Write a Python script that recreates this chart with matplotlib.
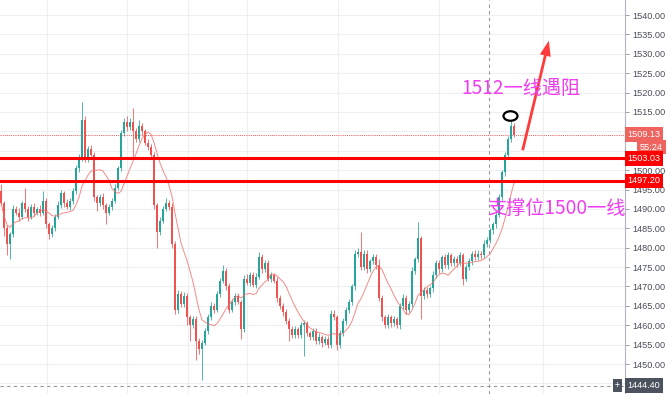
import numpy as np
import pandas as pd
import matplotlib
matplotlib.use('Agg')
import matplotlib.pyplot as plt
from matplotlib.patches import Ellipse, FancyArrowPatch
import matplotlib.transforms as mtransforms

plt.rcParams['font.family'] = ['Noto Sans CJK SC', 'DejaVu Sans']

# candle data
first_open = 1494.5
closes = [
    1491.5, 1485.0, 1481.0, 1483.5, 1490.0, 1489.0, 1488.0, 1491.5, 1490.0, 1488.0,
    1490.5, 1489.0, 1490.0, 1489.0, 1492.0, 1486.0, 1483.5, 1485.0, 1488.0, 1491.0,
    1494.0, 1491.5, 1490.5, 1492.0, 1494.5, 1500.5, 1503.0, 1513.0, 1503.0, 1505.5,
    1504.0, 1493.0, 1491.5, 1493.0, 1491.0, 1489.0, 1490.5, 1492.0, 1495.5, 1500.5,
    1509.5, 1512.5, 1511.0, 1512.5, 1510.0, 1508.0, 1511.5, 1510.0, 1507.0, 1506.0,
    1504.0, 1491.0, 1484.0, 1487.0, 1490.0, 1491.5, 1490.5, 1481.0, 1464.0, 1468.0,
    1465.5, 1467.5, 1462.0, 1460.0, 1461.5, 1456.0, 1454.0, 1455.5, 1458.5, 1462.0,
    1465.0, 1464.0, 1468.0, 1471.5, 1474.0, 1470.0, 1464.0, 1466.0, 1467.5, 1466.0,
    1459.0, 1472.0, 1471.0, 1473.0, 1470.5, 1472.5, 1477.5, 1474.5, 1476.0, 1472.0,
    1473.0, 1471.5, 1467.0, 1465.0, 1463.5, 1461.0, 1459.0, 1457.5, 1459.0, 1457.5,
    1460.0, 1460.5, 1458.0, 1457.0, 1458.5, 1456.0, 1457.0, 1455.5, 1456.5, 1455.0,
    1463.0, 1462.0, 1455.0, 1458.0, 1461.0, 1464.0, 1466.0, 1470.0, 1478.5, 1479.0,
    1475.0, 1478.5, 1474.5, 1476.5, 1477.5, 1475.5, 1467.0, 1462.0, 1460.0, 1462.0,
    1460.5, 1461.5, 1460.0, 1465.0, 1467.0, 1464.0, 1465.5, 1474.0, 1477.0, 1482.5,
    1467.5, 1469.0, 1468.0, 1469.5, 1473.0, 1476.0, 1474.5, 1477.5, 1475.5, 1478.0,
    1476.0, 1477.0, 1476.0, 1478.0, 1472.0, 1475.0, 1476.5, 1478.5, 1477.5, 1478.5,
    1478.0, 1481.0, 1482.0, 1484.5, 1486.0, 1488.5, 1493.0, 1499.5, 1504.0, 1508.0,
    1511.5, 1509.13,
]
wick_up = [
    2.0, 0.5, 0.8, 0.6, 1.0, 0.8, 1.2, 0.6, 4.0, 0.7,
    0.8, 1.0, 0.6, 0.9, 2.5, 0.7, 0.5, 0.8, 0.6, 1.0,
    0.8, 0.6, 1.0, 0.7, 0.9, 0.8, 1.2, 4.5, 1.0, 0.8,
    0.9, 0.6, 0.7, 0.8, 1.0, 0.6, 0.8, 0.7, 0.9, 0.6,
    0.8, 1.0, 1.5, 0.9, 3.5, 0.8, 1.5, 0.7, 0.6, 0.9,
    0.8, 0.7, 0.6, 1.0, 0.8, 1.2, 0.7, 0.9, 0.6, 1.2,
    0.8, 1.0, 0.7, 0.6, 1.0, 0.8, 0.7, 0.6, 0.9, 0.8,
    1.0, 0.8, 0.9, 0.7, 1.5, 0.8, 1.0, 0.7, 0.9, 0.8,
    0.6, 0.9, 1.2, 0.8, 0.7, 1.0, 1.5, 0.8, 0.9, 0.7,
    0.8, 0.6, 0.9, 0.7, 0.8, 0.6, 0.9, 0.7, 0.8, 0.6,
    0.8, 0.9, 0.7, 0.6, 0.8, 0.7, 0.9, 0.6, 0.8, 0.7,
    0.9, 1.0, 0.7, 0.8, 0.9, 0.7, 0.8, 0.6, 1.0, 0.8,
    5.0, 0.8, 0.9, 0.7, 1.0, 0.8, 1.5, 0.7, 0.6, 0.8,
    0.7, 0.9, 0.6, 0.8, 1.0, 0.7, 0.8, 0.9, 0.7, 4.0,
    0.6, 0.8, 0.9, 0.7, 1.0, 0.8, 0.9, 0.7, 1.0, 0.8,
    0.7, 0.9, 0.8, 1.0, 0.6, 0.8, 0.9, 0.7, 1.0, 0.8,
    0.7, 0.9, 0.8, 0.6, 0.7, 0.8, 0.9, 0.6, 0.8, 0.7,
    1.5, 0.6,
]
wick_dn = [
    0.5, 2.0, 3.0, 4.0, 0.8, 0.7, 1.0, 0.6, 0.8, 1.0,
    0.7, 0.9, 0.6, 0.8, 0.5, 1.0, 1.2, 0.8, 0.6, 0.7,
    0.8, 0.9, 0.6, 0.7, 0.8, 0.6, 0.9, 0.7, 1.0, 0.8,
    0.7, 1.0, 2.0, 0.8, 0.9, 3.0, 0.7, 0.8, 0.6, 0.7,
    0.8, 0.6, 0.9, 0.7, 6.5, 0.8, 0.7, 0.9, 0.6, 0.8,
    0.7, 1.0, 4.0, 0.8, 0.7, 0.6, 0.9, 1.0, 1.0, 0.8,
    0.9, 0.7, 2.0, 4.0, 0.8, 5.0, 1.5, 8.0, 0.7, 0.8,
    0.7, 0.9, 0.6, 0.8, 0.7, 1.0, 0.9, 0.7, 0.8, 0.6,
    2.5, 0.8, 0.7, 0.9, 0.6, 0.8, 0.7, 0.9, 0.8, 0.7,
    0.8, 0.7, 0.9, 0.8, 1.0, 0.8, 3.0, 0.7, 0.9, 0.8,
    0.7, 8.0, 0.9, 0.8, 0.7, 0.9, 0.8, 1.0, 0.7, 0.9,
    0.8, 0.7, 1.5, 0.8, 0.7, 0.9, 0.8, 0.7, 0.8, 0.9,
    0.8, 0.7, 0.9, 0.8, 0.7, 0.9, 0.8, 1.0, 0.8, 0.7,
    0.9, 0.8, 0.7, 0.9, 0.8, 1.0, 0.7, 0.8, 0.9, 0.7,
    6.0, 0.8, 0.9, 0.7, 0.8, 0.7, 0.9, 0.8, 0.7, 0.9,
    0.8, 0.7, 0.9, 0.8, 1.5, 0.7, 0.8, 0.9, 0.7, 0.8,
    0.9, 0.7, 0.8, 0.7, 0.9, 0.8, 0.7, 0.8, 0.9, 0.7,
    0.8, 0.5,
]

last_price = 1509.13
resist = 1503.03
support = 1497.20
cross_price = 1444.40
countdown = '55:24'
ytick_vals = list(range(1450, 1545, 5))

up_col = '#26a69a'
dn_col = '#ef5350'

opens = [first_open] + closes[:-1]
o = np.array(opens)
c = np.array(closes)
hi = np.maximum(o, c) + np.array(wick_up)
lo = np.minimum(o, c) - np.array(wick_dn)
x = np.arange(len(c))
cols = np.where(c >= o, up_col, dn_col)
ma = pd.Series(c).rolling(10, min_periods=1).mean()

fig = plt.figure(figsize=(6.68, 3.94), dpi=100)
ax = fig.add_axes([0, 0, 625 / 668, 1])
ax.set_xlim(-1 / 3, 208)
ax.set_ylim(1442.27, 1543.87)

# grid
for v in ytick_vals + [1445]:
    ax.axhline(v, color='#edf0f3', lw=0.8, zorder=0)
for gx in [15.33, 42, 62.33, 82, 112.33, 146, 180.67]:
    ax.axvline(gx, color='#edf0f3', lw=0.8, zorder=0)

# candles
ax.vlines(x, lo, hi, colors=cols, lw=0.7, alpha=0.8, zorder=2)
body_h = np.maximum(np.abs(c - o), 0.25)
ax.bar(x, body_h, bottom=np.minimum(o, c), width=0.75, color=cols, lw=0, zorder=3)
ax.plot(x, ma, color='#f26d6a', lw=0.7, alpha=0.8, zorder=4)

# levels
ax.axhline(last_price, color=dn_col, lw=0.7, ls=(0, (1, 1.2)), zorder=1)
ax.axhline(resist, color='#ff0000', lw=2.2, zorder=5)
ax.axhline(support, color='#ff0000', lw=2.2, zorder=5)

# crosshair
ax.axvline(162.67, color='#9598a1', lw=0.8, ls=(0, (3, 3)), zorder=1)
ax.axhline(cross_price, color='#9598a1', lw=0.8, ls=(0, (3, 3)), zorder=1)

# right price scale (1510 sits under the last-price box, 1505 mostly under the timer)
for s in ['top', 'left', 'bottom']:
    ax.spines[s].set_visible(False)
ax.spines['right'].set_color('#b2b5be')
ax.spines['right'].set_linewidth(0.8)
ax.set_xticks([])
ax.yaxis.tick_right()
ax.set_yticks(ytick_vals)
ax.set_yticklabels(['' if v in (1505, 1510) else f'{v:.2f}' for v in ytick_vals])
ax.tick_params(axis='y', length=3, width=0.6, color='#8a8e99', pad=2.5,
               labelsize=6.6, labelcolor='#4a4e59')
for lbl in ax.get_yticklabels():
    lbl.set_fontfamily('Liberation Sans')

trans = mtransforms.blended_transform_factory(ax.transAxes, ax.transData)


def price_box(val, text, fc, xoff=0.004):
    ax.text(1 + xoff, val, text, transform=trans, ha='left', va='center',
            fontsize=6.6, color='white', fontfamily='Liberation Sans', clip_on=False,
            zorder=10, bbox=dict(boxstyle='square,pad=0.3', fc=fc, ec='none'))


price_box(last_price, f'{last_price:.2f}', '#f06460')
price_box(1505.9, countdown, '#f06460', xoff=0.024)
price_box(resist, f'{resist:.2f}', '#ff0000')
price_box(support, f'{support:.2f}', '#ff0000')
price_box(cross_price, f'{cross_price:.2f}', '#4c525e')
ax.text(0.988, cross_price, '+', transform=trans, ha='center', va='center',
        fontsize=6.5, color='white', clip_on=False, zorder=10,
        bbox=dict(boxstyle='square,pad=0.25', fc='#4c525e', ec='none'))

# annotations
fig.text(461 / 668, 1 - 88 / 394, '1512一线遇阻', color='#f03cf0', fontsize=13.8,
         ha='left', va='center')
fig.text(487 / 668, 1 - 208 / 394, '支撑位1500一线', color='#f03cf0', fontsize=13.8,
         ha='left', va='center')
fig.add_artist(Ellipse((5.105, 3.94 - 1.16), 0.14, 0.095, transform=fig.dpi_scale_trans,
                       fill=False, ec='black', lw=1.6))
fig.add_artist(FancyArrowPatch((5.22, 3.94 - 1.53), (5.495, 3.94 - 0.38),
                               transform=fig.dpi_scale_trans,
                               arrowstyle='simple,head_width=8,head_length=11,tail_width=2',
                               mutation_scale=1, color='#ff3b3b', lw=0))

fig.savefig('out.png', dpi=100)
